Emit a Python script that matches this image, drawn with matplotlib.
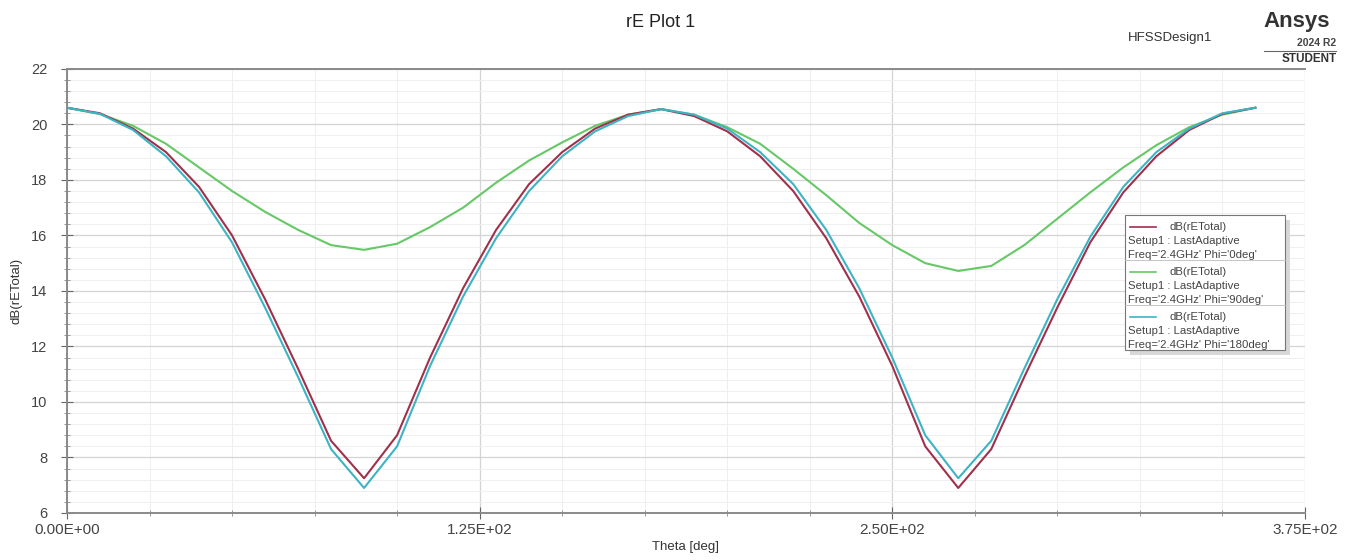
import matplotlib.pyplot as plt
from matplotlib.lines import Line2D
from matplotlib.patches import Rectangle
from matplotlib.ticker import MultipleLocator, FuncFormatter

plt.rcParams['font.family'] = ['Liberation Sans', 'DejaVu Sans']

# Theta sweep in degrees
theta = list(range(0, 361, 10))

# dB(rETotal), Phi = 0deg
phi_0 = [20.6, 20.4, 19.85, 19.0, 17.75, 16.0, 13.7, 11.2, 8.6, 7.25,
         8.8, 11.6, 14.1, 16.2, 17.85, 19.0, 19.85, 20.35, 20.55,
         20.3, 19.75, 18.85, 17.6, 15.9, 13.8, 11.3, 8.4, 6.9,
         8.3, 10.9, 13.4, 15.75, 17.55, 18.85, 19.8, 20.38, 20.6]

# dB(rETotal), Phi = 90deg
phi_90 = [20.6, 20.37, 19.95, 19.3, 18.45, 17.6, 16.85, 16.2, 15.65, 15.48,
          15.7, 16.3, 17.0, 17.9, 18.7, 19.35, 19.95, 20.35, 20.55,
          20.35, 19.9, 19.3, 18.4, 17.45, 16.45, 15.65, 15.0, 14.72,
          14.9, 15.65, 16.6, 17.55, 18.45, 19.25, 19.9, 20.35, 20.6]

# dB(rETotal), Phi = 180deg
phi_180 = [20.6, 20.38, 19.8, 18.85, 17.55, 15.75, 13.4, 10.9, 8.3, 6.9,
           8.4, 11.3, 13.8, 15.9, 17.6, 18.85, 19.75, 20.3, 20.55,
           20.35, 19.85, 19.0, 17.85, 16.2, 14.1, 11.6, 8.8, 7.25,
           8.6, 11.2, 13.7, 15.95, 17.75, 19.0, 19.85, 20.4, 20.6]

series = [
    (phi_0, '#a0304c', "Freq='2.4GHz' Phi='0deg'"),
    (phi_90, '#66c866', "Freq='2.4GHz' Phi='90deg'"),
    (phi_180, '#3cb4c4', "Freq='2.4GHz' Phi='180deg'"),
]

fig = plt.figure(figsize=(13.48, 5.6), dpi=100)
ax = fig.add_axes([0.0497, 0.084, 0.9183, 0.793])

for vals, color, _ in [series[1], series[0], series[2]]:
    ax.plot(theta, vals, color=color, lw=1.5)

ax.set_xlim(0, 375)
ax.set_ylim(6, 22)
ax.xaxis.set_major_locator(MultipleLocator(125))
ax.xaxis.set_minor_locator(MultipleLocator(25))
ax.yaxis.set_major_locator(MultipleLocator(2))
ax.yaxis.set_minor_locator(MultipleLocator(0.4))
ax.xaxis.set_major_formatter(FuncFormatter(lambda v, p: f"{v:.2E}"))

ax.grid(which='major', color='#d4d4d4', lw=0.9)
ax.grid(which='minor', color='#efefef', lw=0.7)
ax.set_axisbelow(True)

for side in ['top', 'bottom', 'left']:
    ax.spines[side].set_color('#8a8a8a')
    ax.spines[side].set_linewidth(1.4)
ax.spines['right'].set_visible(False)

ax.tick_params(which='major', direction='inout', length=8, color='#666666',
               labelcolor='#444444')
ax.tick_params(which='minor', direction='inout', length=5, color='#888888')
ax.tick_params(axis='x', pad=3, labelsize=11)
ax.tick_params(axis='y', pad=10, labelsize=10.5)

ax.set_xlabel('Theta [deg]', fontsize=9.5, color='#333333', labelpad=3)
ax.set_ylabel('dB(rETotal)', fontsize=9.5, color='#333333', labelpad=6)

fig.text(0.49, 0.96, 'rE Plot 1', ha='center', va='center', fontsize=13, color='#222222')
fig.text(0.868, 0.933, 'HFSSDesign1', ha='center', va='center', fontsize=9.5, color='#333333')
fig.text(0.962, 0.962, 'Ansys', ha='center', va='center', fontsize=16,
         fontweight='bold', color='#333333')
fig.text(0.991, 0.923, '2024 R2', ha='right', va='center', fontsize=7.5,
         fontweight='bold', color='#444444')
fig.add_artist(Line2D([0.938, 0.991], [0.909, 0.909], color='#666666', lw=0.8))
fig.text(0.992, 0.895, 'STUDENT', ha='right', va='center', fontsize=8.5,
         fontweight='bold', color='#333333')

# legend box drawn by hand to mimic the HFSS layout
x0, x1, y0, y1 = 0.855, 0.984, 0.367, 0.671
ax.add_patch(Rectangle((x0 + 0.004, y0 - 0.012), x1 - x0, y1 - y0, transform=ax.transAxes,
                       facecolor='#d8d8d8', edgecolor='none', zorder=5))
ax.add_patch(Rectangle((x0, y0), x1 - x0, y1 - y0, transform=ax.transAxes,
                       facecolor='white', edgecolor='#777777', lw=0.8, zorder=6))
step = (y1 - y0) / 3
for i, (_, color, freq) in enumerate(series):
    top = y1 - i * step
    ax.add_line(Line2D([x0 + 0.004, x0 + 0.025], [top - 0.027, top - 0.027], color=color,
                       lw=1.2, transform=ax.transAxes, zorder=7))
    ax.text(x0 + 0.036, top - 0.027, 'dB(rETotal)', transform=ax.transAxes, fontsize=8.2,
            va='center', color='#444444', zorder=7)
    ax.text(x0 + 0.002, top - 0.058, 'Setup1 : LastAdaptive', transform=ax.transAxes,
            fontsize=8.2, va='center', color='#444444', zorder=7)
    ax.text(x0 + 0.002, top - 0.089, freq, transform=ax.transAxes, fontsize=8.2,
            va='center', color='#444444', zorder=7)
    if i > 0:
        ax.add_line(Line2D([x0, x1], [top, top], color='#bbbbbb', lw=0.6,
                           transform=ax.transAxes, zorder=7))

fig.savefig('out.png', dpi=100)
plt.close(fig)
